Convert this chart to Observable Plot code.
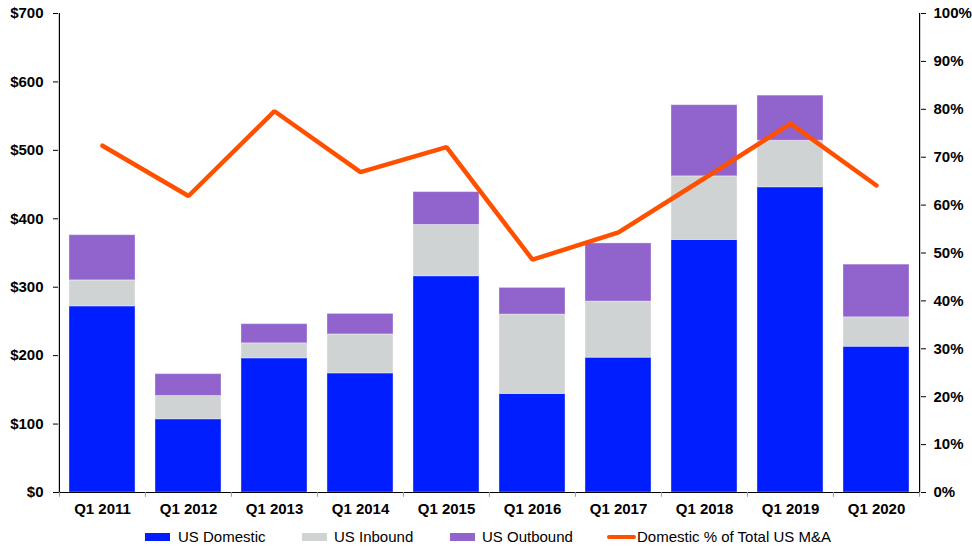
<!DOCTYPE html>
<html>
<head>
<meta charset="utf-8">
<script src="https://cdn.jsdelivr.net/npm/d3@7"></script>
<script src="https://cdn.jsdelivr.net/npm/@observablehq/plot@0.6"></script>
<style>
  html, body { margin: 0; padding: 0; background: #fff; }
  body { width: 972px; height: 548px; overflow: hidden; position: relative; font-family: "Liberation Sans", Arial, sans-serif; }
  #chart { position: absolute; left: 0; top: 0; }
  .leg { position: absolute; top: 528px; height: 18px; font-size: 15px; color: #000; line-height: 18px; }
  .sw { position: absolute; top: 5px; width: 25px; height: 8px; }
  .ln { position: absolute; top: 7px; width: 29px; height: 4px; border-radius: 2px; background: #FF5000; }
</style>
</head>
<body>
<div id="chart"></div>
<div class="leg" style="left:145px"><div class="sw" style="left:0;background:#001EFF"></div><span style="position:absolute;left:33px;white-space:nowrap">US Domestic</span></div>
<div class="leg" style="left:302px"><div class="sw" style="left:0;background:#D0D3D4"></div><span style="position:absolute;left:32px;white-space:nowrap">US Inbound</span></div>
<div class="leg" style="left:450px"><div class="sw" style="left:0;background:#9063CD"></div><span style="position:absolute;left:32px;white-space:nowrap">US Outbound</span></div>
<div class="leg" style="left:607px"><div class="ln" style="left:0"></div><span style="position:absolute;left:30px;white-space:nowrap">Domestic % of Total US M&amp;A</span></div>
<script>
const categories = ["Q1 2011","Q1 2012","Q1 2013","Q1 2014","Q1 2015","Q1 2016","Q1 2017","Q1 2018","Q1 2019","Q1 2020"];
const usDomestic = [272, 107, 196, 174, 316, 144, 197, 369, 446, 213];
const usInbound  = [ 38,  34,  22,  57,  75, 116,  82,  93,  68,  43];
const usOutbound = [ 66,  32,  28,  30,  48,  39,  85, 104,  66,  77];
const domesticPct = [72.4, 61.9, 79.6, 66.9, 72.1, 48.6, 54.3, 65.6, 77.0, 64.1];
const leftTicks = [0,100,200,300,400,500,600,700];
const rightTicks = [0,10,20,30,40,50,60,70,80,90,100];
const seriesNames = ["US Domestic","US Inbound","US Outbound"];
const seriesColors = ["#001EFF","#D0D3D4","#9063CD"];

const W = 972, H = 522, mL = 58, mR = 52, mT = 13, mB = 30;
const pctMax = 100, dollarMax = 700;
const toDollar = p => p / pctMax * dollarMax;

const rows = [];
const seriesVals = [usDomestic, usInbound, usOutbound];
seriesNames.forEach((s, si) => categories.forEach((c, i) => rows.push({cat: c, series: s, value: seriesVals[si][i]})));
const lineRows = categories.map((c, i) => ({cat: c, pct: domesticPct[i]}));

const step = (W - mL - mR) / categories.length;
const font = "Liberation Sans, Arial, sans-serif";

const chart = Plot.plot({
  width: W, height: H,
  marginLeft: mL, marginRight: mR, marginTop: mT, marginBottom: mB,
  style: {fontFamily: font, fontSize: "15px", fontWeight: "bold", color: "#000", background: "#fff"},
  x: {domain: categories, paddingInner: 0.232, paddingOuter: 0.116, label: null, axis: null},
  y: {domain: [0, dollarMax], label: null, axis: null},
  color: {domain: seriesNames, range: seriesColors},
  marks: [
    Plot.barY(rows, Plot.stackY({x: "cat", y: "value", fill: "series", stroke: "#ffffff", strokeOpacity: 0.35, strokeWidth: 1})),
    Plot.line(lineRows, {x: "cat", y: d => toDollar(d.pct), stroke: "#FF5000", strokeWidth: 4.5, strokeLinejoin: "miter", strokeLinecap: "round"}),
    Plot.axisY({anchor: "left", ticks: leftTicks, tickFormat: d => "$" + d, tickSize: 5, tickPadding: 10, label: null, fontWeight: "bold"}),
    Plot.axisY({anchor: "right", ticks: rightTicks.map(toDollar), tickFormat: d => Math.round(d / dollarMax * pctMax) + "%", tickSize: 5, tickPadding: 8, label: null, fontWeight: "bold"}),
    Plot.axisX({anchor: "bottom", tickSize: 0, tickPadding: 11, label: null, fontWeight: "bold"}),
    Plot.ruleY([0], {stroke: "#000", strokeWidth: 1.2}),
    Plot.ruleX(categories, {x: d => d, y1: 0, y2: -7, dx: -step / 2, stroke: "#999"}),
    Plot.ruleX([categories[categories.length - 1]], {x: d => d, y1: 0, y2: -7, dx: step / 2, stroke: "#999"}),
    Plot.ruleX([categories[0]], {x: d => d, y1: 0, y2: dollarMax, dx: -step / 2, stroke: "#000", strokeWidth: 1.2}),
    Plot.ruleX([categories[categories.length - 1]], {x: d => d, y1: 0, y2: dollarMax, dx: step / 2, stroke: "#000", strokeWidth: 1.2})
  ]
});
document.getElementById("chart").appendChild(chart);
</script>
</body>
</html>
